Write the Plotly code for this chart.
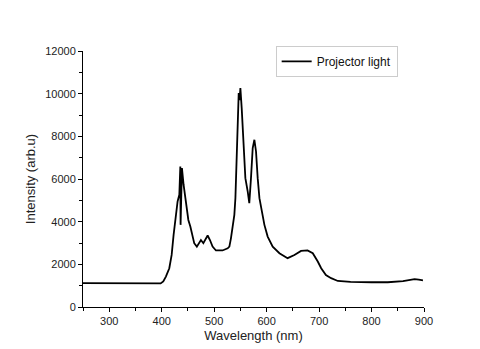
"""Emission spectrum of a projector light source."""
import plotly.graph_objects as go

FONT = "Liberation Sans, Arial, sans-serif"

wavelength = [250, 300, 350, 380, 398, 403, 408, 414.5, 419, 422.7, 427, 430.3, 433.6, 435.5,
              436, 438.6, 441.8, 446.2, 450.8, 454.6, 457.8, 462, 467, 471.8, 474.8, 479.4,
              484.4, 487.6, 492, 497, 503.4, 516, 525.8, 529, 532, 535, 538.5, 540.5, 543.5,
              546.8, 548.5, 550, 552.5, 555.7, 559.5, 564, 567, 570.2, 573.5, 576.7, 579.8, 583,
              586.3, 591, 595.8, 602, 611.6, 624.4, 640, 653, 665.6, 678, 688, 697.5, 704, 713,
              723, 735.7, 760, 800, 831, 860, 875.6, 882, 890, 898]
intensity = [1120, 1110, 1120, 1110, 1105, 1200, 1425, 1815, 2440, 3380, 4320, 4950, 5260, 6590,
             3850, 6510, 5720, 4790, 4080, 3770, 3380, 2990, 2830, 2990, 3140, 2990,
             3220, 3350, 3140, 2830, 2650, 2650, 2750, 2830, 3220, 3850, 4320, 5100, 7600,
             10030, 9700, 10260, 9320, 7600, 6040, 5410, 4870, 6040, 7450, 7840, 7290, 6040,
             5100, 4480, 3850, 3300, 2830, 2520, 2290, 2440, 2630, 2650, 2520, 2130, 1820, 1500,
             1350, 1220, 1180, 1160, 1160, 1210, 1270, 1310, 1280, 1250]

fig = go.Figure()
fig.add_scatter(x=wavelength, y=intensity, mode="lines", name="Projector light",
                line=dict(color="black", width=1.8))

axis_style = dict(showgrid=False, zeroline=False, showline=True, linecolor="black", linewidth=1,
                  ticks="outside", ticklen=4, tickcolor="black", tickformat="d",
                  tickfont=dict(family=FONT, size=11, color="#222"),
                  title_font=dict(family=FONT, size=13, color="#222"))
fig.update_xaxes(range=[250, 900], dtick=100, title_text="Wavelength (nm)", title_standoff=4,
                 minor=dict(dtick=50, ticks="outside", ticklen=3, tickcolor="black"), **axis_style)
fig.update_yaxes(range=[0, 12000], dtick=2000, title_text="Intensity (arb.u)", title_standoff=6,
                 minor=dict(dtick=1000, ticks="outside", ticklen=3, tickcolor="black"), **axis_style)
fig.update_layout(
    width=480, height=349, template="plotly_white", plot_bgcolor="white", paper_bgcolor="white",
    margin=dict(l=75, r=64, t=43, b=50),
    showlegend=True,
    legend=dict(x=0.565, y=1.02, xanchor="left", yanchor="top", bgcolor="white",
                bordercolor="#ccc", borderwidth=1, font=dict(family=FONT, size=12, color="#111"),
                itemwidth=30, tracegroupgap=0),
)
fig.write_html("out.html")
